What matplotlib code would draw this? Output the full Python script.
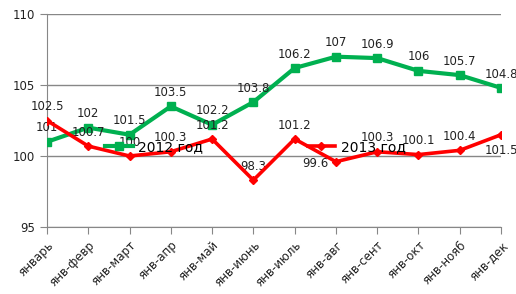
import matplotlib
matplotlib.use("Agg")
import matplotlib.pyplot as plt

months = ["январь", "янв-февр", "янв-март", "янв-апр", "янв-май", "янв-июнь",
          "янв-июль", "янв-авг", "янв-сент", "янв-окт", "янв-нояб", "янв-дек"]
y2012 = [101, 102, 101.5, 103.5, 102.2, 103.8, 106.2, 107, 106.9, 106, 105.7, 104.8]
y2013 = [102.5, 100.7, 100, 100.3, 101.2, 98.3, 101.2, 99.6, 100.3, 100.1, 100.4, 101.5]

green = "#00B050"
red = "#FF0000"
grid_c = "#878787"

fig = plt.figure(figsize=(5.16, 2.94), dpi=100)
ax = fig.add_axes([0.091, 0.228, 0.880, 0.724])

x = list(range(len(months)))
l1, = ax.plot(x, y2012, color=green, lw=3, marker="s", ms=6, label="2012 год", zorder=3)
l2, = ax.plot(x, y2013, color=red, lw=2.6, marker="D", ms=4, label="2013 год", zorder=4)

# label offsets in points (dx, dy)
off12 = [(0, 10)] * 12
off13 = [(0, 10)] * 12
off13[7] = (-15, -1)
off13[11] = (0, -11)

for xi, v, o in zip(x, y2012, off12):
    ax.annotate(f"{v:g}", (xi, v), xytext=o, textcoords="offset points",
                ha="center", va="center", fontsize=8.5, color="#222222",
                annotation_clip=False)
for xi, v, o in zip(x, y2013, off13):
    ax.annotate(f"{v:g}", (xi, v), xytext=o, textcoords="offset points",
                ha="center", va="center", fontsize=8.5, color="#222222",
                annotation_clip=False)

ax.set_xlim(0, 11)
ax.set_ylim(95, 110)
ax.set_yticks([95, 100, 105, 110])
ax.set_xticks(x)
ax.set_xticklabels(months, rotation=45, ha="right", rotation_mode="anchor")
ax.tick_params(axis="both", labelsize=8.5, color=grid_c, length=5, labelcolor="#222222")
ax.yaxis.grid(True, color=grid_c, lw=1)
ax.set_axisbelow(True)
for s in ["top", "right"]:
    ax.spines[s].set_visible(False)
for s in ["left", "bottom"]:
    ax.spines[s].set_color(grid_c)

leg = ax.legend(handles=[l1, l2], loc="center left", bbox_to_anchor=(0.128, 0.376),
                ncol=2, frameon=False, fontsize=10, handlelength=2.0,
                handletextpad=0.4, columnspacing=7.5, borderpad=0, borderaxespad=0)
leg.set_zorder(5)

fig.savefig("out.png", dpi=100)
